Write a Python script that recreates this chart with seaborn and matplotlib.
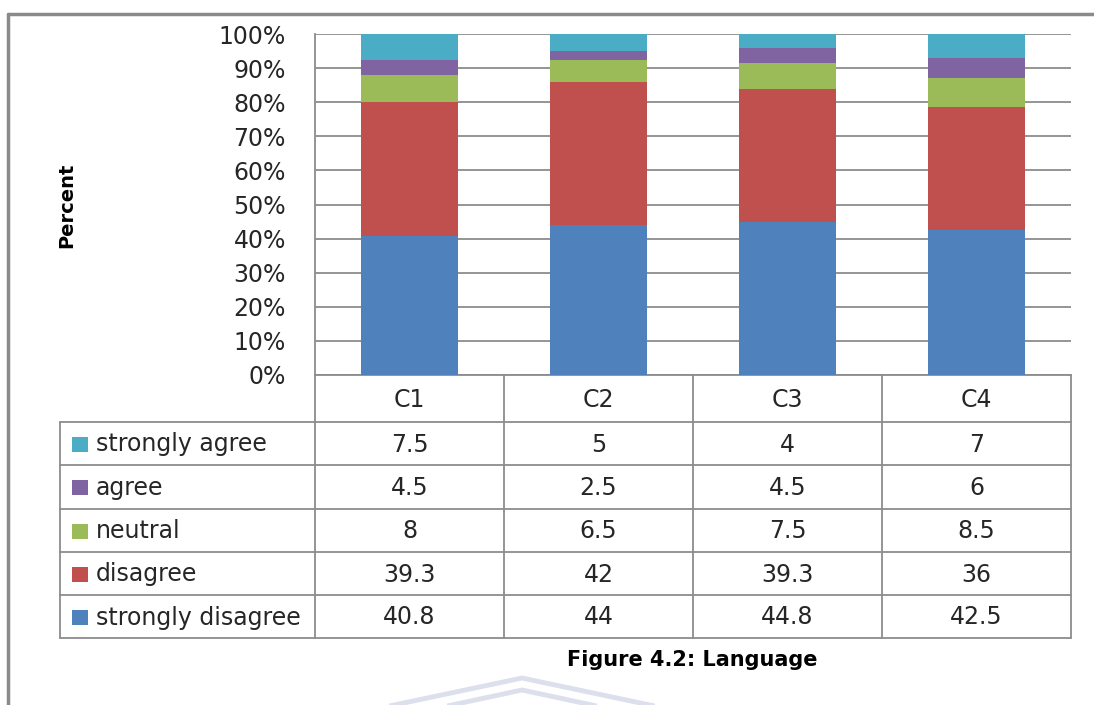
import matplotlib
matplotlib.use("Agg")
import matplotlib.pyplot as plt
import numpy as np
import pandas as pd
import seaborn as sns

sns.set_theme(style="white")
plt.rcParams["font.family"] = ["DejaVu Sans"]

# Survey responses per construct (percent of respondents)
categories = ["C1", "C2", "C3", "C4"]
series_names = ["strongly disagree", "disagree", "neutral", "agree", "strongly agree"]
strongly_disagree = [40.8, 44, 44.8, 42.5]
disagree = [39.3, 42, 39.3, 36]
neutral = [8, 6.5, 7.5, 8.5]
agree = [4.5, 2.5, 4.5, 6]
strongly_agree = [7.5, 5, 4, 7]
y_ticks = [0, 10, 20, 30, 40, 50, 60, 70, 80, 90, 100]
caption = "Figure 4.2: Language"
y_label = "Percent"

colors = {
    "strongly disagree": "#4F81BD",
    "disagree": "#C0504D",
    "neutral": "#9BBB59",
    "agree": "#8064A2",
    "strongly agree": "#4BACC6",
}

values = pd.DataFrame(
    {
        "strongly disagree": strongly_disagree,
        "disagree": disagree,
        "neutral": neutral,
        "agree": agree,
        "strongly agree": strongly_agree,
    },
    index=categories,
)
# 100% stacking: normalise each column to its total, then accumulate
shares = values.div(values.sum(axis=1), axis=0) * 100
cumulative = shares.cumsum(axis=1)

W, H = 1094, 705
fig = plt.figure(figsize=(W / 100, H / 100), dpi=100)

def px_rect(x0, y0, x1, y1):
    return [x0 / W, 1 - y1 / H, (x1 - x0) / W, (y1 - y0) / H]

ax = fig.add_axes(px_rect(315, 34, 1071, 375))

# Draw the cumulative layers top-down so each lower layer covers the one above
for name in reversed(series_names):
    df = pd.DataFrame({"construct": categories, "top": cumulative[name].values})
    sns.barplot(
        data=df, x="construct", y="top", color=colors[name], width=0.51,
        saturation=1, edgecolor="none", ax=ax, zorder=3,
    )

text_color = "#262626"
ax.set_xlim(-0.5, 3.5)
ax.set_ylim(0, 100)
ax.set_yticks(y_ticks)
ax.set_yticklabels([f"{t}%" for t in y_ticks], fontsize=17, color=text_color)
ax.set_xticks([])
ax.set_xlabel("")
ax.set_ylabel("")
ax.tick_params(axis="y", length=0, pad=21)
ax.yaxis.grid(True, color="#8c8c8c", linewidth=1.3, zorder=0)
ax.set_axisbelow(True)
for side in ["top", "right"]:
    ax.spines[side].set_visible(False)
for side in ["left", "bottom"]:
    ax.spines[side].set_color("#8c8c8c")
    ax.spines[side].set_linewidth(1.3)
ax.patch.set_alpha(0)

# Overlay in pixel coordinates for the data table, frame and caption
ov = fig.add_axes([0, 0, 1, 1], zorder=-1)
ov.set_xlim(0, W)
ov.set_ylim(H, 0)
ov.axis("off")

line_kw = dict(color="#8c8c8c", linewidth=1.3)
col_x = [315, 504, 693, 882, 1071]
row_y = [422, 465, 509, 552, 595, 638]

# Outer frame of the figure region
ov.plot([8, W], [14, 14], color="#8a8a8a", linewidth=2.5)
ov.plot([8, 8], [14, H], color="#8a8a8a", linewidth=2.5)

# Table grid
for x in col_x:
    ov.plot([x, x], [375, row_y[-1]], **line_kw)
ov.plot([60, 60], [row_y[0], row_y[-1]], **line_kw)
for y in row_y:
    ov.plot([60, col_x[-1]], [y, y], **line_kw)

# Header row
for i, cat in enumerate(categories):
    cx = (col_x[i] + col_x[i + 1]) / 2
    ov.text(cx, 400, cat, ha="center", va="center", fontsize=17, color=text_color)

# Data rows, listed from top of stack to bottom
for r, name in enumerate(reversed(series_names)):
    cy = (row_y[r] + row_y[r + 1]) / 2
    ov.add_patch(plt.Rectangle((72, cy - 7), 16, 15, color=colors[name], linewidth=0))
    ov.text(96, cy + 1, name, ha="left", va="center", fontsize=17, color=text_color)
    for i in range(len(categories)):
        cx = (col_x[i] + col_x[i + 1]) / 2
        v = values.loc[categories[i], name]
        ov.text(cx, cy + 1, f"{v:g}", ha="center", va="center", fontsize=17, color=text_color)

# Axis title and caption
ov.text(67, 205, y_label, rotation=90, ha="center", va="center",
        fontsize=14, fontweight="bold", color="#000000")
ov.text(692, 660, caption, ha="center", va="center",
        fontsize=15, fontweight="bold", color="#000000")

# Faint chevron watermark at the foot of the page
ov.plot([380, 522, 664], [708, 678, 708], color="#dcdfec", linewidth=3.5,
        solid_capstyle="butt", zorder=-2)
ov.plot([410, 522, 634], [714, 690, 714], color="#dcdfec", linewidth=3.5,
        solid_capstyle="butt", zorder=-2)

fig.savefig("out.png", dpi=100)
